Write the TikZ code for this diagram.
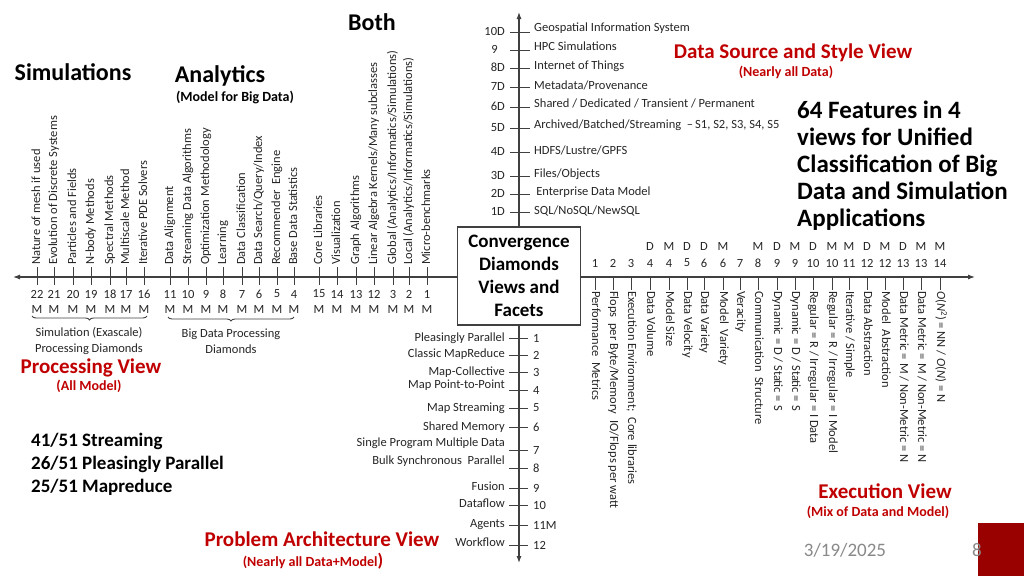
\documentclass[tikz,border=0pt]{standalone}
\usepackage{fontspec}
\setmainfont{Carlito}
\usetikzlibrary{arrows.meta,decorations.pathreplacing}
\definecolor{vred}{RGB}{192,0,0}
\definecolor{dred}{RGB}{153,0,0}
\definecolor{lab}{RGB}{38,38,38}
\definecolor{axc}{RGB}{64,64,64}
\definecolor{dgray}{RGB}{137,137,137}
\tikzset{
  axisline/.style={draw=axc, line width=1.1pt, -{Latex[length=7pt,width=5pt]}},
  tk/.style={draw=axc, line width=1pt},
  lbl/.style={inner sep=0pt, text=lab, font=\fontsize{12.5}{14}\selectfont, text height=8.5pt, text depth=2.5pt},
  numl/.style={inner sep=0pt, text=lab, font=\fontsize{12.5}{14}\selectfont},
  btitle/.style={inner sep=0pt, font=\bfseries\fontsize{24}{28}\selectfont},
  bsub/.style={inner sep=0pt, font=\bfseries\fontsize{14}{16}\selectfont},
  rtitle/.style={inner sep=0pt, text=vred, font=\bfseries\fontsize{21}{24}\selectfont},
  rsub/.style={inner sep=0pt, text=vred, font=\bfseries\fontsize{14}{16}\selectfont},
  feat/.style={inner sep=0pt, anchor=base west, font=\bfseries\fontsize{25}{27}\selectfont},
  stat/.style={inner sep=0pt, anchor=base west, font=\bfseries\fontsize{19}{22}\selectfont},
  bracetext/.style={inner sep=0pt, text=lab, align=center, font=\fontsize{12.5}{16}\selectfont},
  bracedeco/.style={draw=axc, line width=0.9pt, decorate, decoration={brace, mirror, amplitude=4pt}},
  centerbox/.style={draw=axc, line width=1.1pt, fill=white, minimum width=123pt, minimum height=98pt, align=center, inner sep=0pt, font=\bfseries\fontsize{19}{23}\selectfont},
}
% left axis tick: x, number, text
\newcommand\LTick[3]{%
  \draw[tk] (#1,267) -- (#1,285);
  \node[lbl,rotate=90,anchor=west] (ltl#2) at (#1,265) {#3};
  \node[numl] (ltn#2) at (#1,294) {#2};
  \node[numl] (ltm#2) at (#1,309) {M};
}
% right axis tick: x, number, letter, text
\newcommand\RTick[4]{%
  \draw[tk] (#1,277) -- (#1,290);
  \node[lbl,rotate=-90,anchor=west] (rtl#1) at (#1,291) {#4};
  \node[numl] (rtn#1) at (#1,263) {#2};
  \if\relax\detokenize{#3}\relax\else\node[numl] (rtm#1) at (#1,246) {#3};\fi
}
% upper axis tick: y, left label, text, text y, left label x
\newcommand\UTick[5]{%
  \draw[tk] (510,#1) -- (530,#1);
  \node[lbl,anchor=east] (utl#1) at (#5,#1) {#2};
  \node[lbl,anchor=west] (utt#1) at (534,#4) {#3};
}
% lower axis tick: y, text, number, text y
\newcommand\DTick[4]{%
  \draw[tk] (509,#1) -- (528,#1);
  \node[lbl,anchor=east] (dtl#3) at (505,#4) {#2};
  \node[numl,anchor=west] (dtn#3) at (533,#1) {#3};
}
\begin{document}
\begin{tikzpicture}[x=1pt,y=-1pt]
\useasboundingbox (0,0) rectangle (1024,576);
\fill[white] (0,0) rectangle (1024,576);

% central box and axes
\node[centerbox] (box) at (519,276) {Convergence\\Diamonds\\Views and\\Facets};
\coordinate (topend) at (519,12);
\coordinate (leftend) at (13,277);
\coordinate (rightend) at (975,277);
\coordinate (botend) at (519,563);
\draw[axisline] (box.north) -- (topend);
\draw[axisline] (box.west |- 0,277) -- (leftend);
\draw[axisline] (box.east |- 0,277) -- (rightend);
\draw[axisline] (box.south) -- (botend);

% titles
\node[btitle] (both) at (372,22) {Both};
\node[btitle] (sims) at (73,72) {Simulations};
\node[btitle] (analytics) at (220,76) {Analytics};
\node[bsub] (analyticssub) at (235,97) {(Model for Big Data)};
\node[rtitle] (dsv) at (793,53) {Data Source and Style View};
\node[rsub] (dsvsub) at (786,72) {(Nearly all Data)};
\node[feat] (f1) at (797,118) {64 Features in 4};
\node[feat] (f2) at (797,145) {views for Unified};
\node[feat] (f3) at (797,172) {Classification of Big};
\node[feat] (f4) at (797,199) {Data and Simulation};
\node[feat] (f5) at (797,226) {Applications};

% left axis (processing view)
\LTick{37}{22}{Nature of mesh if used}
\LTick{54}{21}{Evolution of Discrete Systems}
\LTick{73}{20}{Particles and Fields}
\LTick{91}{19}{N-body Methods}
\LTick{110}{18}{Spectral Methods}
\LTick{126}{17}{Multiscale Method}
\LTick{144}{16}{Iterative PDE Solvers}
\LTick{170}{11}{Data Alignment}
\LTick{188}{10}{Streaming Data Algorithms}
\LTick{206}{9}{Optimization Methodology}
\LTick{223}{8}{Learning}
\LTick{242}{7}{Data Classification}
\LTick{259}{6}{Data Search/Query/Index}
\LTick{277}{5}{Recommender\ \ Engine}
\LTick{294}{4}{Base Data Statistics}
\LTick{319}{15}{Core Libraries}
\LTick{337}{14}{Visualization}
\LTick{356}{13}{Graph Algorithms}
\LTick{374}{12}{Linear Algebra Kernels/Many subclasses}
\LTick{393}{3}{Global (Analytics/Informatics/Simulations)}
\LTick{409}{2}{Local (Analytics/Informatics/Simulations)}
\LTick{427}{1}{Micro-benchmarks}

\draw[bracedeco] (32,316) -- (147,316);
\draw[bracedeco] (168,317) -- (294,317);
\node[bracetext] (simproc) at (89,341) {Simulation (Exascale)\\Processing Diamonds};
\node[bracetext] (bdproc) at (231,341) {Big Data Processing\\Diamonds};
\node[rtitle] (pv) at (91,368) {Processing View};
\node[rsub] (pvsub) at (89,386) {(All Model)};
\node[stat] (s1) at (31,446) {41/51 Streaming};
\node[stat] (s2) at (31,469) {26/51 Pleasingly Parallel};
\node[stat] (s3) at (31,492) {25/51 Mapreduce};

% upper axis (data source and style view)
\UTick{32}{10D}{Geospatial Information System}{28}{505}
\UTick{50}{9}{HPC Simulations}{47}{498}
\UTick{68}{8D}{Internet of Things}{66}{505}
\UTick{87}{7D}{Metadata/Provenance}{86}{505}
\UTick{107}{6D}{Shared / Dedicated / Transient / Permanent}{104}{505}
\UTick{128}{5D}{Archived/Batched/Streaming \ –\,S1, S2, S3, S4, S5}{125}{505}
\UTick{152}{4D}{HDFS/Lustre/GPFS}{151}{505}
\UTick{176}{3D}{Files/Objects}{174}{505}
\UTick{194}{2D}{\,Enterprise Data Model}{192}{505}
\UTick{212}{1D}{SQL/NoSQL/NewSQL}{211}{505}

% lower axis (problem architecture view)
\DTick{338}{Pleasingly Parallel}{1}{338}
\DTick{355}{Classic MapReduce}{2}{354}
\DTick{372}{Map-Collective}{3}{372}
\DTick{390}{Map Point-to-Point}{4}{385}
\DTick{408}{Map Streaming}{5}{408}
\DTick{427}{Shared Memory}{6}{427}
\DTick{450}{Single Program Multiple Data}{7}{443}
\DTick{468}{Bulk Synchronous\ \ Parallel}{8}{461}
\DTick{488}{Fusion}{9}{487}
\DTick{505}{Dataflow}{10}{504}
\DTick{525}{Agents}{11M}{524}
\DTick{545}{Workflow}{12}{543}
\node[rtitle] (pav) at (322,539) {Problem Architecture View};
\node[rsub] (pavsub) at (313,561) {(Nearly all Data+Model{\fontsize{18}{18}\selectfont )}};

% right axis (execution view)
\RTick{595}{1}{}{Performance\ \ Metrics}
\RTick{613}{2}{}{Flops\ \ per Byte/Memory\ \ IO/Flops per watt}
\RTick{631}{3}{}{Execution Environment;\ \ Core libraries}
\RTick{650}{4}{D}{Data Volume}
\RTick{669}{4}{M}{Model Size}
\RTick{687}{5}{D}{Data Velocity}
\RTick{704}{6}{D}{Data Variety}
\RTick{723}{6}{M}{Model\ \ Variety}
\RTick{740}{7}{}{Veracity}
\RTick{758}{8}{M}{Communication\ \ Structure}
\RTick{777}{9}{D}{Dynamic = D / Static = S}
\RTick{795}{9}{M}{Dynamic = D / Static = S}
\RTick{813}{10}{D}{Regular = R / Irregular = I Data}
\RTick{832}{10}{M}{Regular = R / Irregular = I Model}
\RTick{849}{11}{M}{Iterative / Simple}
\RTick{867}{12}{D}{Data Abstraction}
\RTick{885}{12}{M}{Model\ \ Abstraction}
\RTick{903}{13}{D}{Data Metric = M / Non-Metric = N}
\RTick{921}{13}{M}{Data Metric = M / Non-Metric = N}
\RTick{940}{14}{M}{\textit{O}(\textit{N}\textsuperscript{2}) = NN / \textit{O}(\textit{N}) = N}
\node[rtitle] (ev) at (885,491) {Execution View};
\node[rsub] (evsub) at (878,512) {(Mix of Data and Model)};

% footer
\fill[dred] (978,523) rectangle (1024,576);
\node[inner sep=0pt, text=dgray, font=\fontsize{19}{22}\selectfont] (date) at (845,550) {3/19/2025};
\node[inner sep=0pt, text=dgray, font=\fontsize{19}{22}\selectfont] (page) at (977,550) {8};
\end{tikzpicture}
\end{document}
